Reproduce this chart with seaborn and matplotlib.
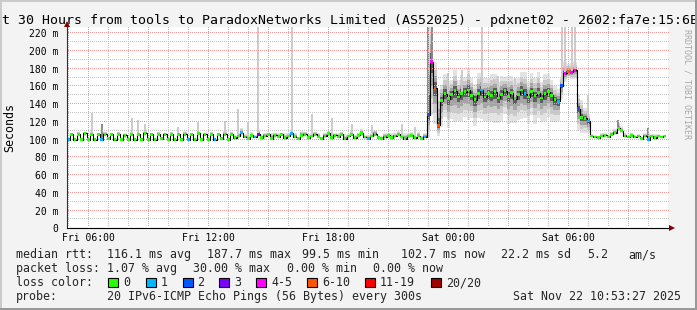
import numpy as np
import pandas as pd
import matplotlib
matplotlib.use("Agg")
import matplotlib.pyplot as plt
import seaborn as sns
from matplotlib.patches import Rectangle
from matplotlib.ticker import FixedLocator, FuncFormatter

# ---------------- data ----------------
START_HOUR = 5.0          # first sample: Fri 05:00 (hours since Fri 00:00)
STEP_MIN = 10             # one sample every 10 minutes

med_seg_a = [100, 106, 100, 106, 100, 107, 100, 106, 100, 106,
             100, 106, 101, 106, 100, 106, 100, 105, 100, 106,
             100, 106, 100, 107, 100, 106, 100, 106, 101, 106,
             100, 106, 100, 106, 100, 106, 100, 106, 100, 107,
             100, 106, 100, 106, 100, 106, 101, 106, 100, 106,
             102, 104, 108, 103]
med_seg_b = [101, 105, 103, 106, 102, 104, 106, 101, 105, 103,
             106, 102, 104, 107, 103, 101, 105, 106, 102, 104,
             106, 103, 101, 104, 107, 102, 105, 103, 106, 101,
             104, 106, 102, 105, 107, 103, 101, 104, 106, 102,
             101, 103, 105, 102, 104, 106, 103, 101, 104, 105,
             102, 104, 101, 103]
med_seg_jump = [128, 188, 158, 116]
med_seg_c = [144, 152, 146, 151, 155, 148, 152, 154, 156, 150,
             145, 152, 156, 148, 152, 150, 154, 147, 151, 155,
             149, 153, 146, 151, 156, 152, 148, 154, 150, 153,
             147, 152, 154, 150, 145, 143]
med_seg_d = [161, 175, 177, 176, 178, 135, 125, 124, 121]
med_seg_e = [104, 103, 102, 104, 105, 103, 106, 108, 113, 110,
             104, 103, 105, 103, 104, 101, 104, 100, 104, 102,
             104, 103, 104]

up_seg_a = [1, 2, 1, 3, 1, 2, 1, 4, 1, 2, 1, 3, 1, 2, 1, 3, 1, 2, 1, 4,
            1, 2, 1, 3, 1, 2, 1, 3, 1, 2, 1, 3, 1, 2, 1, 4, 1, 2, 1, 3,
            1, 2, 1, 3, 1, 2, 1, 4, 1, 3, 3, 4, 5, 3]
dn_seg_a = [0, 1, 0, 1, 0, 1, 0, 1, 0, 1, 0, 1, 0, 1, 0, 1, 0, 1, 0, 1,
            0, 1, 0, 1, 0, 1, 0, 1, 0, 1, 0, 1, 0, 1, 0, 1, 0, 1, 0, 1,
            0, 1, 0, 1, 0, 1, 0, 1, 0, 1, 1, 2, 3, 1]
up_seg_b = [3, 4, 2, 5, 3, 4, 2, 6, 3, 4, 2, 5, 3, 3, 4, 2, 5, 3, 4, 2,
            3, 5, 2, 4, 3, 6, 2, 4, 3, 5, 2, 4, 3, 3, 5, 2, 4, 3, 5, 2,
            3, 4, 2, 5, 3, 4, 2, 6, 3, 4, 2, 5, 3, 4]
dn_seg_b = [1, 2, 1, 2, 1, 1, 2, 1, 2, 1, 1, 2, 1, 2, 1, 1, 2, 1, 2, 1,
            2, 1, 1, 2, 1, 2, 1, 1, 2, 1, 2, 1, 1, 2, 1, 2, 1, 1, 2, 1,
            1, 2, 1, 2, 1, 1, 2, 1, 2, 1, 1, 2, 1, 1]
up_seg_jump = [100, 45, 30, 40]
dn_seg_jump = [25, 60, 40, 12]
up_seg_c = [18, 22, 20, 16, 24, 19, 21, 17, 25, 20, 18, 23, 19, 22, 17, 24,
            20, 18, 21, 16, 23, 19, 22, 18, 20, 24, 17, 21, 19, 23, 18, 22,
            20, 17, 15, 14]
dn_seg_c = [30, 26, 33, 28, 35, 27, 31, 29, 34, 26, 30, 28, 33, 27, 32, 29,
            35, 28, 30, 26, 31, 34, 27, 29, 33, 28, 30, 26, 32, 29, 27, 31,
            28, 30, 25, 22]
up_seg_d = [10, 12, 8, 10, 9, 15, 20, 12, 8]
dn_seg_d = [15, 10, 8, 8, 10, 25, 18, 16, 14]
up_seg_e = [2, 2, 1, 3, 2, 2, 3, 4, 6, 5, 3, 2, 3, 2, 2, 1, 3, 8, 2, 4, 2, 2, 1]
dn_seg_e = [1, 1, 0, 1, 1, 1, 1, 2, 3, 2, 1, 1, 1, 1, 1, 0, 1, 0, 1, 1, 1, 1, 0]

# samples that lost pings: sample index -> lost pings (of 20)
loss_idx = [0, 10, 36, 44, 52, 56, 57, 67, 90, 107, 108, 109, 110, 111,
            124, 137, 147, 148, 149, 150, 151, 152, 153, 156, 174]
loss_cnt = [1, 1, 1, 1, 1, 1, 3, 1, 1, 1, 2, 4, 6, 6,
            1, 1, 1, 2, 4, 8, 4, 4, 2, 1, 1]

# outlier pings drawn as thin smoke spikes: sample index, top value (ms)
spike_idx = [7, 10, 19, 21, 23, 33, 39, 47, 51, 54, 57, 67, 73, 79, 85, 91,
             100, 104, 108, 109, 114, 118, 124, 129, 134, 148, 149, 151, 152,
             156, 165, 174]
spike_top = [130, 118, 124, 122, 118, 114, 120, 121, 135, 120, 235, 235, 129,
             124, 118, 116, 118, 114, 235, 235, 175, 178, 235, 172, 170, 235,
             235, 235, 235, 150, 122, 113]
spike_dark = [0, 1, 0, 0, 0, 0, 0, 0, 0, 0, 0, 0, 0, 0, 0, 0,
              0, 0, 1, 1, 0, 0, 0, 0, 0, 0, 0, 0, 0, 0, 1, 1]

loss_labels = ["0", "1", "2", "3", "4-5", "6-10", "11-19", "20/20"]
loss_colors = ["#26ff00", "#00b8ff", "#0059ff", "#7e00ff",
               "#ff00ff", "#ff5500", "#ff0000", "#a10000"]

y_ticks = [0, 20, 40, 60, 80, 100, 120, 140, 160, 180, 200, 220]
y_tick_labels = ["0", "20 m", "40 m", "60 m", "80 m", "100 m", "120 m",
                 "140 m", "160 m", "180 m", "200 m", "220 m"]
x_tick_hours = [6, 12, 18, 24, 30]
x_tick_labels = ["Fri 06:00", "Fri 12:00", "Fri 18:00", "Sat 00:00", "Sat 06:00"]

title = "t 30 Hours from tools to ParadoxNetworks Limited (AS52025) - pdxnet02 - 2602:fa7e:15:6E"
legend_line1 = [("median rtt:", 16), ("116.1 ms avg", 107), ("187.7 ms max", 207),
                ("99.5 ms min", 302), ("102.7 ms now", 401), ("22.2 ms sd", 501),
                ("5.2", 587), ("am/s", 628)]
legend_line2 = [("packet loss:", 16), ("1.07 % avg", 107), ("30.00 % max", 193),
                ("0.00 % min", 287), ("0.00 % now", 373)]
legend_line4 = [("probe:", 16), ("20 IPv6-ICMP Echo Pings (56 Bytes) every 300s", 107),
                ("Sat Nov 22 10:53:27 2025", 513)]

# ---------------- assemble ----------------
median_ms = med_seg_a + med_seg_b + med_seg_jump + med_seg_c + med_seg_d + med_seg_e
smoke_up = up_seg_a + up_seg_b + up_seg_jump + up_seg_c + up_seg_d + up_seg_e
smoke_dn = dn_seg_a + dn_seg_b + dn_seg_jump + dn_seg_c + dn_seg_d + dn_seg_e

n = len(median_ms)
hours = START_HOUR + np.arange(n) * STEP_MIN / 60.0
med = np.array(median_ms, dtype=float)
up = np.array(smoke_up, dtype=float)
dn = np.array(smoke_dn, dtype=float)

loss = np.zeros(n, dtype=int)
loss[loss_idx] = loss_cnt


def loss_class(c):
    if c == 0:
        return "0"
    if c <= 3:
        return str(c)
    if c <= 5:
        return "4-5"
    if c <= 10:
        return "6-10"
    if c <= 19:
        return "11-19"
    return "20/20"


df = pd.DataFrame({"hours": hours, "median": med,
                   "loss": [loss_class(c) for c in loss]})
palette = dict(zip(loss_labels, loss_colors))

# ---------------- figure ----------------
sns.set_style("white")
plt.rcParams["font.family"] = ["DejaVu Sans Mono"]

W, H, DPI = 697, 310, 100
BG = "#f3f3f3"
fig = plt.figure(figsize=(W / DPI, H / DPI), dpi=DPI, facecolor=BG)


def fx(px):
    return px / W


def fy(py):
    return 1 - py / H


L, R, T, B = 66.7, 668.0, 27.0, 228.3
X0, X1, Y0, Y1 = 4.92, 34.985, 0.0, 227.0
ax = fig.add_axes([fx(L), fy(B), (R - L) / W, (B - T) / H])
ax.set_facecolor("white")

# smoke
layers = [(1.0, "#e3e3e3"), (0.7, "#cacaca"), (0.45, "#a4a4a4"), (0.22, "#5e5e5e")]
for frac, col in layers:
    ax.fill_between(hours, med - dn * frac, med + up * frac, step="mid",
                    color=col, lw=0, zorder=1)

sp_cols = ["#8a8a8a" if d else "#cbcbcb" for d in spike_dark]
ax.vlines(hours[spike_idx], med[spike_idx], spike_top, colors=sp_cols,
          lw=1.4, zorder=1.5)

# dotted grid (1 px dots every 2 px, drawn over the smoke like rrdtool)
px_x = (X1 - X0) / (R - L)      # hours per pixel
px_y = (Y1 - Y0) / (B - T)      # ms per pixel
dense_x = np.arange(X0 + px_x, X1, 2 * px_x)
dense_y = np.arange(Y0 + 2 * px_y, Y1, 2 * px_y)
major_x = [h for h in range(6, 35, 3)]
minor_x = [h for h in range(5, 35) if h % 3 != 0]
minor_y = [v + 10 for v in y_ticks[:-1]]


def dotted_grid(xs_lines, ys_lines, color):
    gx, gy = [], []
    for v in ys_lines:
        gx.append(dense_x)
        gy.append(np.full_like(dense_x, v))
    for h in xs_lines:
        gx.append(np.full_like(dense_y, h))
        gy.append(dense_y)
    ax.plot(np.concatenate(gx), np.concatenate(gy), ls="none", marker=",",
            color=color, zorder=2.5)


dotted_grid(minor_x, minor_y, "#c4c4c4")
dotted_grid(major_x, y_ticks[1:], "#f09a9a")

# median line + loss-coloured samples
sns.lineplot(data=df, x="hours", y="median", drawstyle="steps-mid",
             color="black", lw=0.8, estimator=None, ax=ax, zorder=3)
sns.scatterplot(data=df, x="hours", y="median", hue="loss", palette=palette,
                hue_order=loss_labels, marker="s", s=4, linewidth=0,
                legend=False, ax=ax, zorder=4)

ax.set_xlim(X0, X1)
ax.set_ylim(Y0, Y1)

ax.xaxis.set_major_locator(FixedLocator(x_tick_hours))
xlab = dict(zip(x_tick_hours, x_tick_labels))
ax.xaxis.set_major_formatter(FuncFormatter(lambda v, p: xlab.get(int(round(v)), "")))
ax.yaxis.set_major_locator(FixedLocator(y_ticks))
ylab = dict(zip(y_ticks, y_tick_labels))
ax.yaxis.set_major_formatter(FuncFormatter(lambda v, p: ylab.get(int(round(v)), "")))
ax.grid(False)
ax.tick_params(axis="both", which="both", length=0, labelsize=7, colors="black")
ax.tick_params(axis="y", pad=6)
ax.tick_params(axis="x", pad=3.5)
ax.set_xlabel("")
ax.set_ylabel("")

for s in ["top", "right"]:
    ax.spines[s].set_visible(False)
ax.spines["left"].set_color("#303030")
ax.spines["bottom"].set_color("black")
ax.spines["left"].set_linewidth(0.8)
ax.spines["bottom"].set_linewidth(0.8)
ax.spines["left"].set_zorder(5)
ax.spines["bottom"].set_zorder(5)

# axis arrows
ax.plot([0, 0], [1.0, 1.015], transform=ax.transAxes, clip_on=False,
        color="#303030", lw=0.8)
ax.plot([1.0, 1.004], [0, 0], transform=ax.transAxes, clip_on=False,
        color="black", lw=0.8)
ax.plot([0], [1.015], marker="^", ms=4, color="#800000", mew=0,
        transform=ax.transAxes, clip_on=False)
ax.plot([1.006], [0], marker=">", ms=4, color="#800000", mew=0,
        transform=ax.transAxes, clip_on=False)

# texts
fig.text(fx(2), fy(24), title, fontsize=9.5, ha="left", va="baseline",
         color="black", zorder=3)
fig.text(fx(687), fy(29), "RRDTOOL / TOBI OETIKER", fontsize=6, rotation=270,
         ha="center", va="top", color="#a8a8a8", zorder=0.5)
fig.text(fx(10), fy(127.5), "Seconds", fontsize=8.4, rotation=90,
         ha="center", va="center", color="black")

LEG_FS = 8.4
for txt, x in legend_line1:
    fig.text(fx(x), fy(258), txt, fontsize=LEG_FS, ha="left", va="baseline")
for txt, x in legend_line2:
    fig.text(fx(x), fy(272), txt, fontsize=LEG_FS, ha="left", va="baseline")
fig.text(fx(16), fy(286), "loss color:", fontsize=LEG_FS, ha="left", va="baseline")
box_x = [108, 146, 183, 219, 256, 307, 365, 431]
lab_x = [123, 161, 197, 234, 271, 322, 380, 446]
for bx, lx, lab, col in zip(box_x, lab_x, loss_labels, loss_colors):
    fig.add_artist(Rectangle((fx(bx), fy(287)), 9.5 / W, 9 / H,
                             transform=fig.transFigure, facecolor=col,
                             edgecolor="black", lw=0.8, zorder=2))
    fig.text(fx(lx), fy(286), lab, fontsize=LEG_FS, ha="left", va="baseline")
for txt, x in legend_line4:
    fig.text(fx(x), fy(300), txt, fontsize=LEG_FS, ha="left", va="baseline")

# frame (3D border like rrdtool)
fig.add_artist(Rectangle((0, fy(2)), 1, 2 / H, transform=fig.transFigure,
                         facecolor="#cbcbcb", edgecolor="none", zorder=4))
fig.add_artist(Rectangle((0, 0), 2 / W, 1, transform=fig.transFigure,
                         facecolor="#cbcbcb", edgecolor="none", zorder=4))
fig.add_artist(Rectangle((0, 0), 1, 2.5 / H, transform=fig.transFigure,
                         facecolor="#999999", edgecolor="none", zorder=4))
fig.add_artist(Rectangle((1 - 2.5 / W, 0), 2.5 / W, 1, transform=fig.transFigure,
                         facecolor="#999999", edgecolor="none", zorder=4))

fig.savefig("out.png", dpi=DPI, facecolor=BG)
